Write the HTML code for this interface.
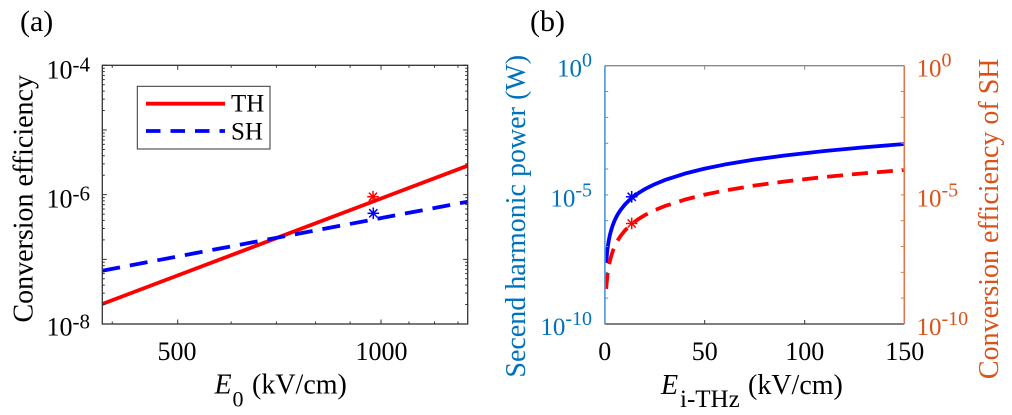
<!DOCTYPE html>
<html>
<head>
<meta charset="utf-8">
<style>
  html, body { margin: 0; padding: 0; background: #ffffff; }
  svg { display: block; }
  svg text { font-family: "Liberation Serif", "Times New Roman", serif; }
</style>
</head>
<body>
<svg width="1012" height="415" viewBox="0 0 1012 415" xmlns="http://www.w3.org/2000/svg" font-family="'Liberation Serif', 'Times New Roman', serif" style="font-family:'Liberation Serif','Times New Roman',serif">
  <rect x="0" y="0" width="1012" height="415" fill="#ffffff"/>

  <!-- ================= Panel (a) ================= -->
  <text x="20" y="31" font-size="30" fill="#000" font-family="'Liberation Serif', serif">(a)</text>

  <!-- series -->
  <line x1="102.3" y1="304" x2="467.7" y2="165.7" stroke="#ff0000" stroke-width="3.8" stroke-linecap="butt"/>
  <line x1="102.3" y1="270.7" x2="467.7" y2="201.7" stroke="#0000ff" stroke-width="3.8" stroke-dasharray="18 10" stroke-linecap="butt"/>

  <!-- stars (a) -->
  <g stroke="#ff0000" stroke-width="1.5">
    <line x1="373" y1="190.9" x2="373" y2="202.5"/>
    <line x1="367.2" y1="196.7" x2="378.8" y2="196.7"/>
    <line x1="368.9" y1="192.6" x2="377.1" y2="200.8"/>
    <line x1="368.9" y1="200.8" x2="377.1" y2="192.6"/>
  </g>
  <g stroke="#0000ff" stroke-width="1.5">
    <line x1="373.3" y1="207.5" x2="373.3" y2="219.1"/>
    <line x1="367.5" y1="213.3" x2="379.1" y2="213.3"/>
    <line x1="369.2" y1="209.2" x2="377.4" y2="217.4"/>
    <line x1="369.2" y1="217.4" x2="377.4" y2="209.2"/>
  </g>

  <!-- axes box (a) -->
  <rect x="102.3" y="65.3" width="365.4" height="258.7" fill="none" stroke="#333" stroke-width="1.3"/>

  <g stroke="#333" stroke-width="1">
    <path d="M102.3 65.3h4.5 M102.3 130h4.5 M102.3 194.67h4.5 M102.3 259.33h4.5 M102.3 324h4.5
             M467.7 65.3h-4.5 M467.7 130h-4.5 M467.7 194.67h-4.5 M467.7 259.33h-4.5 M467.7 324h-4.5"/>
    <path d="M102.3 304.53h2.5 M102.3 293.15h2.5 M102.3 285.07h2.5 M102.3 278.8h2.5 M102.3 273.68h2.5 M102.3 269.35h2.5 M102.3 265.6h2.5 M102.3 262.29h2.5
             M102.3 239.86h2.5 M102.3 228.48h2.5 M102.3 220.4h2.5 M102.3 214.13h2.5 M102.3 209.01h2.5 M102.3 204.68h2.5 M102.3 200.93h2.5 M102.3 197.62h2.5
             M102.3 175.2h2.5 M102.3 163.82h2.5 M102.3 155.74h2.5 M102.3 149.47h2.5 M102.3 144.35h2.5 M102.3 140.02h2.5 M102.3 136.27h2.5 M102.3 132.96h2.5
             M102.3 110.53h2.5 M102.3 99.15h2.5 M102.3 91.07h2.5 M102.3 84.8h2.5 M102.3 79.68h2.5 M102.3 75.35h2.5 M102.3 71.6h2.5 M102.3 68.29h2.5"/>
    <path d="M467.7 304.53h-2.5 M467.7 293.15h-2.5 M467.7 285.07h-2.5 M467.7 278.8h-2.5 M467.7 273.68h-2.5 M467.7 269.35h-2.5 M467.7 265.6h-2.5 M467.7 262.29h-2.5
             M467.7 239.86h-2.5 M467.7 228.48h-2.5 M467.7 220.4h-2.5 M467.7 214.13h-2.5 M467.7 209.01h-2.5 M467.7 204.68h-2.5 M467.7 200.93h-2.5 M467.7 197.62h-2.5
             M467.7 175.2h-2.5 M467.7 163.82h-2.5 M467.7 155.74h-2.5 M467.7 149.47h-2.5 M467.7 144.35h-2.5 M467.7 140.02h-2.5 M467.7 136.27h-2.5 M467.7 132.96h-2.5
             M467.7 110.53h-2.5 M467.7 99.15h-2.5 M467.7 91.07h-2.5 M467.7 84.8h-2.5 M467.7 79.68h-2.5 M467.7 75.35h-2.5 M467.7 71.6h-2.5 M467.7 68.29h-2.5"/>
    <path d="M177.7 324v-4.5 M381 324v-4.5
             M112.25 324v-2.5 M231.18 324v-2.5 M276.4 324v-2.5 M315.56 324v-2.5 M350.11 324v-2.5 M408.96 324v-2.5 M434.48 324v-2.5 M457.96 324v-2.5"/>
    <path d="M177.7 65.3v4.5 M381 65.3v4.5
             M112.25 65.3v2.5 M231.18 65.3v2.5 M276.4 65.3v2.5 M315.56 65.3v2.5 M350.11 65.3v2.5 M408.96 65.3v2.5 M434.48 65.3v2.5 M457.96 65.3v2.5"/>
  </g>

  <!-- y tick labels (a) -->
  <g font-size="26" fill="#000" text-anchor="end" font-family="'Liberation Serif', serif">
    <text x="90" y="78.3">10<tspan font-size="21" dy="-7">-4</tspan></text>
    <text x="90" y="207.3">10<tspan font-size="21" dy="-7">-6</tspan></text>
    <text x="90" y="335.5">10<tspan font-size="21" dy="-7">-8</tspan></text>
  </g>
  <g font-size="26" fill="#000" text-anchor="middle" font-family="'Liberation Serif', serif">
    <text x="177" y="360">500</text>
    <text x="381.5" y="360">1000</text>
  </g>

  <!-- axis labels (a) -->
  <g font-family="'Liberation Serif', serif" fill="#000">
    <text transform="translate(32.5,198.8) rotate(-90)" text-anchor="middle" font-size="28">Conversion efficiency</text>
    <text x="214.5" y="393.3" font-size="28" font-style="italic">E</text>
    <text x="232.5" y="406.7" font-size="22">0</text>
    <text x="252" y="393.3" font-size="28">(kV/cm)</text>
  </g>

  <!-- legend (a) -->
  <rect x="137.3" y="86.3" width="132.7" height="62.7" fill="#ffffff" stroke="#333" stroke-width="1"/>
  <line x1="146" y1="103.7" x2="225" y2="103.7" stroke="#ff0000" stroke-width="3.8"/>
  <line x1="146" y1="131" x2="225" y2="131" stroke="#0000ff" stroke-width="3.8" stroke-dasharray="14.5 10"/>
  <g font-family="'Liberation Serif', serif" font-size="25" fill="#000">
    <text x="231" y="111.7">TH</text>
    <text x="231" y="139.3">SH</text>
  </g>

  <!-- ================= Panel (b) ================= -->
  <text x="530" y="31" font-size="30" fill="#000" font-family="'Liberation Serif', serif">(b)</text>

  <polyline fill="none" stroke="#0000ff" stroke-width="3.8" stroke-linejoin="round"
    points="606.2,262.87 606.3,261.42 606.5,258.78 606.7,256.42 607.1,252.33 607.7,247.32 608.7,240.87 609.7,235.86 610.7,231.77 612.7,225.31 614.7,220.31 616.7,216.22 618.7,212.76 620.7,209.76 624.7,204.76 628.7,200.67 632.7,197.21 638.7,192.85 644.7,189.21 654.7,184.2 664.7,180.11 684.7,173.65 704.7,168.65 724.7,164.56 754.7,159.55 784.7,155.46 824.7,150.96 864.7,147.21 904.3,144"/>
  <polyline fill="none" stroke="#ff0000" stroke-width="3.8" stroke-dasharray="16 9" stroke-linejoin="round"
    points="606.2,288.87 606.3,287.42 606.5,284.78 606.7,282.42 607.1,278.33 607.7,273.32 608.7,266.87 609.7,261.86 610.7,257.77 612.7,251.31 614.7,246.31 616.7,242.22 618.7,238.76 620.7,235.76 624.7,230.76 628.7,226.67 632.7,223.21 638.7,218.85 644.7,215.21 654.7,210.2 664.7,206.11 684.7,199.65 704.7,194.65 724.7,190.56 754.7,185.55 784.7,181.46 824.7,176.96 864.7,173.21 904.3,170"/>

  <g stroke="#0000ff" stroke-width="1.5">
    <line x1="631.7" y1="191" x2="631.7" y2="202.6"/>
    <line x1="625.9" y1="196.8" x2="637.5" y2="196.8"/>
    <line x1="627.6" y1="192.7" x2="635.8" y2="200.9"/>
    <line x1="627.6" y1="200.9" x2="635.8" y2="192.7"/>
  </g>
  <g stroke="#ff0000" stroke-width="1.5">
    <line x1="631.7" y1="217.7" x2="631.7" y2="229.3"/>
    <line x1="625.9" y1="223.5" x2="637.5" y2="223.5"/>
    <line x1="627.6" y1="219.4" x2="635.8" y2="227.6"/>
    <line x1="627.6" y1="227.6" x2="635.8" y2="219.4"/>
  </g>

  <line x1="604.7" y1="65.7" x2="904.3" y2="65.7" stroke="#8a8a8a" stroke-width="1.3"/>
  <line x1="604.7" y1="324" x2="904.3" y2="324" stroke="#333" stroke-width="1.3"/>
  <line x1="604.9" y1="65.7" x2="604.9" y2="324" stroke="#4a97d4" stroke-width="1.6"/>
  <line x1="904.3" y1="65.7" x2="904.3" y2="324" stroke="#e07a4a" stroke-width="1.6"/>

  <path stroke="#4a97d4" stroke-width="1" d="M604.7 91.53h3.5 M604.7 117.36h3.5 M604.7 143.19h3.5 M604.7 169.02h3.5 M604.7 194.85h3.5 M604.7 220.68h3.5 M604.7 246.51h3.5 M604.7 272.34h3.5 M604.7 298.17h3.5"/>
  <path stroke="#e07a4a" stroke-width="1" d="M904.3 91.53h-3.5 M904.3 117.36h-3.5 M904.3 143.19h-3.5 M904.3 169.02h-3.5 M904.3 194.85h-3.5 M904.3 220.68h-3.5 M904.3 246.51h-3.5 M904.3 272.34h-3.5 M904.3 298.17h-3.5"/>
  <path stroke="#333" stroke-width="1" d="M704.7 324v-4 M804.7 324v-4"/>
  <path stroke="#8a8a8a" stroke-width="1" d="M704.7 65.7v4 M804.7 65.7v4"/>

  <g font-size="25" fill="#0072BD" text-anchor="end" font-family="'Liberation Serif', serif">
    <text x="592" y="76.7">10<tspan font-size="20" dy="-10">0</tspan></text>
    <text x="592" y="206.7">10<tspan font-size="20" dy="-10">-5</tspan></text>
    <text x="592" y="335">10<tspan font-size="20" dy="-10">-10</tspan></text>
  </g>
  <g font-size="25" fill="#D95319" text-anchor="start" font-family="'Liberation Serif', serif">
    <text x="916.5" y="76.7">10<tspan font-size="20" dy="-10">0</tspan></text>
    <text x="916.5" y="206.7">10<tspan font-size="20" dy="-10">-5</tspan></text>
    <text x="916.5" y="335">10<tspan font-size="20" dy="-10">-10</tspan></text>
  </g>
  <g font-size="26" fill="#000" text-anchor="middle" font-family="'Liberation Serif', serif">
    <text x="604.7" y="360">0</text>
    <text x="704.7" y="360">50</text>
    <text x="804.7" y="360">100</text>
    <text x="904.7" y="360">150</text>
  </g>

  <g font-family="'Liberation Serif', serif">
    <text transform="translate(525,216.3) rotate(-90)" text-anchor="middle" font-size="28" fill="#0072BD">Secend harmonic power (W)</text>
    <text transform="translate(998,218.8) rotate(-90)" text-anchor="middle" font-size="28" fill="#D95319">Conversion efficiency of SH</text>
    <text x="661" y="394" font-size="28" font-style="italic" fill="#000">E</text>
    <text x="680" y="407" font-size="25" fill="#000">i-THz</text>
    <text x="748" y="394" font-size="28" fill="#000">(kV/cm)</text>
  </g>
</svg>
</body>
</html>
